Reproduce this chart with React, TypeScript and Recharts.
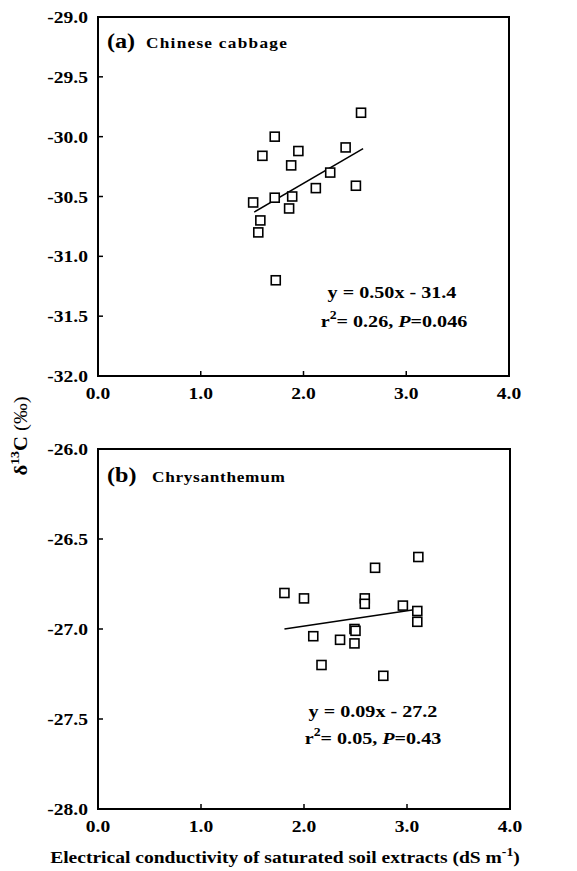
import React from "react";
import { ScatterChart, Scatter, XAxis, YAxis, ReferenceArea } from "recharts";

// panel (a) Chinese cabbage
const cabbageEC = [1.51, 1.58, 1.56, 1.6, 1.72, 1.72, 1.73, 1.86, 1.88, 1.89, 1.95, 2.12, 2.26, 2.41, 2.51, 2.56];
const cabbageD13C = [-30.55, -30.7, -30.8, -30.16, -30.0, -30.51, -31.2, -30.6, -30.24, -30.5, -30.12, -30.43, -30.3, -30.09, -30.41, -29.8];
const cabbageFitEC = [1.52, 2.58];
const cabbageFitD13C = [-30.63, -30.1];

// panel (b) Chrysanthemum
const chrysEC = [1.81, 2.0, 2.09, 2.17, 2.35, 2.49, 2.5, 2.49, 2.59, 2.59, 2.69, 2.77, 2.96, 3.1, 3.1, 3.11];
const chrysD13C = [-26.8, -26.83, -27.04, -27.2, -27.06, -27.0, -27.01, -27.08, -26.83, -26.86, -26.66, -27.26, -26.87, -26.9, -26.96, -26.6];
const chrysFitEC = [1.81, 3.1];
const chrysFitD13C = [-27.0, -26.89];

const xTicks = [0, 1, 2, 3, 4];
const yTicksA = [-32, -31.5, -31, -30.5, -30, -29.5, -29];
const yTicksB = [-28, -27.5, -27, -26.5, -26];

const toPoints = (xs: number[], ys: number[]) => xs.map((x, i) => ({ x, y: ys[i] }));

const FONT = "'Liberation Serif', 'Times New Roman', serif";
const SX = 1.15; // the original lettering is a little wider than Times

// text placed at (x, y) and stretched horizontally
const T = (props: any) => {
  const { x, y, rot, children, ...rest } = props;
  const tf = `translate(${x},${y})${rot ? ` rotate(${rot})` : ""} scale(${SX},1)`;
  return (
    <text transform={tf} fontFamily={FONT} fontWeight="bold" fill="#000" {...rest}>
      {children}
    </text>
  );
};

const Square = (p: any) => (
  <rect x={p.cx - 4.5} y={p.cy - 4.5} width={9} height={9} fill="#fff" stroke="#000" strokeWidth={1.6} />
);
const NoDot = () => <g />;

const XTick = (p: any) => {
  const base = p.y - 11;
  return (
    <g>
      <line x1={p.x} x2={p.x} y1={base} y2={base - 5} stroke="#000" strokeWidth={1.5} />
      <T x={p.x} y={p.y} dy="0.71em" textAnchor="middle" fontSize={17}>
        {Number(p.payload.value).toFixed(1)}
      </T>
    </g>
  );
};

const YTick = (p: any) => {
  const base = p.x + 10;
  return (
    <g>
      <line x1={base} x2={base + 5} y1={p.y} y2={p.y} stroke="#000" strokeWidth={1.5} />
      <T x={p.x} y={p.y} dy="0.355em" textAnchor="end" fontSize={17}>
        {Number(p.payload.value).toFixed(1)}
      </T>
    </g>
  );
};

function Panel(props: {
  height: number;
  margin: any;
  xAxisHeight: number;
  yTicks: number[];
  pts: { x: number; y: number }[];
  fit: { x: number; y: number }[];
}) {
  const { yTicks } = props;
  const yMin = yTicks[0];
  const yMax = yTicks[yTicks.length - 1];
  return (
    <ScatterChart width={577} height={props.height} margin={props.margin}>
      <XAxis
        type="number"
        dataKey="x"
        domain={[0, 4]}
        ticks={xTicks}
        height={props.xAxisHeight}
        axisLine={false}
        tickLine={false}
        tickSize={0}
        tickMargin={11}
        tick={<XTick />}
      />
      <YAxis
        type="number"
        dataKey="y"
        domain={[yMin, yMax]}
        ticks={yTicks}
        width={98}
        axisLine={false}
        tickLine={false}
        tickSize={0}
        tickMargin={10}
        tick={<YTick />}
      />
      <ReferenceArea x1={0} x2={4} y1={yMin} y2={yMax} fill="none" stroke="#000" strokeWidth={2} />
      <Scatter data={props.fit} line={{ stroke: "#000", strokeWidth: 1.5 }} shape={NoDot} isAnimationActive={false} />
      <Scatter data={props.pts} shape={Square} isAnimationActive={false} />
    </ScatterChart>
  );
}

export default function App() {
  return (
    <div style={{ position: "absolute", left: 0, top: 0, width: 577, height: 871, background: "#fff" }}>
      <div style={{ position: "absolute", left: 0, top: 0 }}>
        <Panel
          height={430}
          margin={{ top: 17, right: 68, bottom: 0, left: 0 }}
          xAxisHeight={54}
          yTicks={yTicksA}
          pts={toPoints(cabbageEC, cabbageD13C)}
          fit={toPoints(cabbageFitEC, cabbageFitD13C)}
        />
      </div>
      <div style={{ position: "absolute", left: 0, top: 430 }}>
        <Panel
          height={441}
          margin={{ top: 19, right: 67, bottom: 0, left: 0 }}
          xAxisHeight={62}
          yTicks={yTicksB}
          pts={toPoints(chrysEC, chrysD13C)}
          fit={toPoints(chrysFitEC, chrysFitD13C)}
        />
      </div>
      <svg width={577} height={871} style={{ position: "absolute", left: 0, top: 0, pointerEvents: "none" }}>
        <T x={107} y={48} fontSize={21}>(a)</T>
        <T x={146} y={48} fontSize={15} letterSpacing={1.1}>Chinese cabbage</T>
        <T x={392} y={298} fontSize={17.5} textAnchor="middle">y = 0.50x - 31.4</T>
        <T x={394} y={327} fontSize={17.5} textAnchor="middle">
          r<tspan dy={-8} fontSize={12}>2</tspan>
          <tspan dy={8}>= 0.26, </tspan>
          <tspan fontStyle="italic">P</tspan>=0.046
        </T>

        <T x={107} y={482} fontSize={21}>(b)</T>
        <T x={152} y={482} fontSize={15} letterSpacing={0.6}>Chrysanthemum</T>
        <T x={373} y={717} fontSize={17.5} textAnchor="middle">y = 0.09x - 27.2</T>
        <T x={373} y={744} fontSize={17.5} textAnchor="middle">
          r<tspan dy={-8} fontSize={12}>2</tspan>
          <tspan dy={8}>= 0.05, </tspan>
          <tspan fontStyle="italic">P</tspan>=0.43
        </T>

        <T x={27} y={436} rot={-90} textAnchor="middle" fontSize={18} fontWeight="normal">
          <tspan fontWeight="bold">δ</tspan>
          <tspan dy={-8} fontSize={12} fontWeight="bold">13</tspan>
          <tspan dy={8} fontWeight="bold">C</tspan> (‰)
        </T>

        <T x={285} y={863} fontSize={17} textAnchor="middle">
          Electrical conductivity of saturated soil extracts (dS m
          <tspan dy={-7} fontSize={12}>-1</tspan>
          <tspan dy={7}>)</tspan>
        </T>
      </svg>
    </div>
  );
}
